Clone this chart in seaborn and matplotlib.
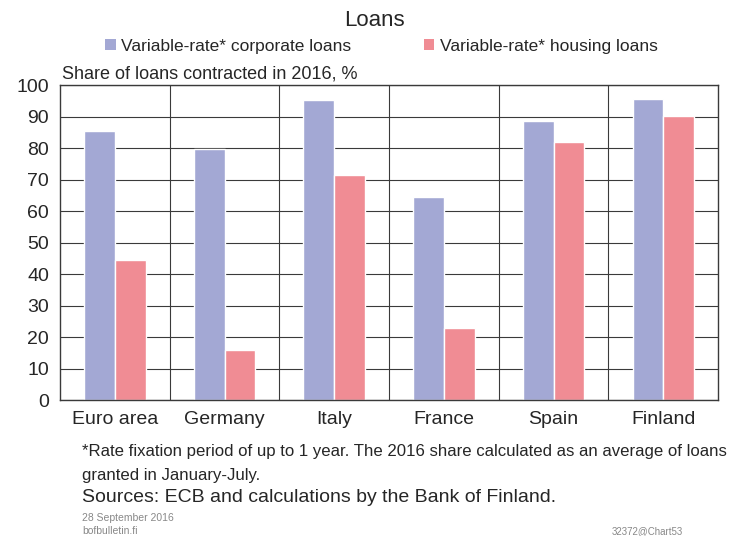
import pandas as pd
import matplotlib
matplotlib.use('Agg')
import matplotlib.pyplot as plt
import seaborn as sns
from matplotlib.patches import Patch

countries = ['Euro area', 'Germany', 'Italy', 'France', 'Spain', 'Finland']
corporate = [85.4, 79.8, 95.2, 64.5, 88.6, 95.6]
housing = [44.4, 15.9, 71.4, 22.8, 82.0, 90.1]
series_names = ['Variable-rate* corporate loans', 'Variable-rate* housing loans']
colors = ['#a3a8d4', '#f08c94']

df = pd.DataFrame({
    'country': countries * 2,
    'series': [series_names[0]] * 6 + [series_names[1]] * 6,
    'value': corporate + housing,
})

sns.set_style('white')
plt.rcParams['font.family'] = ['Liberation Sans', 'DejaVu Sans']

fig = plt.figure(figsize=(7.48, 5.36), dpi=100)
ax = fig.add_axes([0.0802, 0.2537, 0.8798, 0.5877])

sns.barplot(data=df, x='country', y='value', hue='series', palette=colors,
            width=0.56, saturation=1, ax=ax, legend=False)

ax.set_xlim(-0.5, 5.5)
ax.set_ylim(0, 100)
ax.set_yticks(range(0, 101, 10))
ax.set_xticks([i + 0.5 for i in range(5)], minor=True)
ax.set_axisbelow(True)
ax.grid(axis='y', which='major', color='#3a3a3a', linewidth=0.8)
ax.grid(axis='x', which='minor', color='#3a3a3a', linewidth=0.8)
ax.grid(axis='x', which='major', visible=False)
ax.tick_params(axis='both', which='both', length=0, labelsize=14, pad=8)
ax.set_xlabel('')
ax.set_ylabel('')
for s in ax.spines.values():
    s.set_color('#3a3a3a')
    s.set_linewidth(1.0)

fig.text(0.5, 0.962, 'Loans', ha='center', va='center', fontsize=16)
handles = [Patch(facecolor=c, edgecolor='none') for c in colors]
fig.legend(handles, series_names, loc='center', bbox_to_anchor=(0.51, 0.914),
           ncol=2, frameon=False, fontsize=12.5, handlelength=0.6, handleheight=0.6,
           handletextpad=0.3, columnspacing=4.2)
fig.text(0.083, 0.862, 'Share of loans contracted in 2016, %', ha='left', va='center', fontsize=13)

fig.text(0.110, 0.158, '*Rate fixation period of up to 1 year. The 2016 share calculated as an average of loans',
         ha='left', va='center', fontsize=12.1)
fig.text(0.110, 0.113, 'granted in January-July.', ha='left', va='center', fontsize=12.1)
fig.text(0.110, 0.072, 'Sources: ECB and calculations by the Bank of Finland.', ha='left', va='center', fontsize=14)
fig.text(0.110, 0.034, '28 September 2016', ha='left', va='center', fontsize=7.5, color='#888888')
fig.text(0.110, 0.010, 'bofbulletin.fi', ha='left', va='center', fontsize=7.5, color='#888888')
fig.text(0.818, 0.010, '32372@Chart53', ha='left', va='center', fontsize=7, color='#888888')

fig.savefig('out.png', dpi=100)
